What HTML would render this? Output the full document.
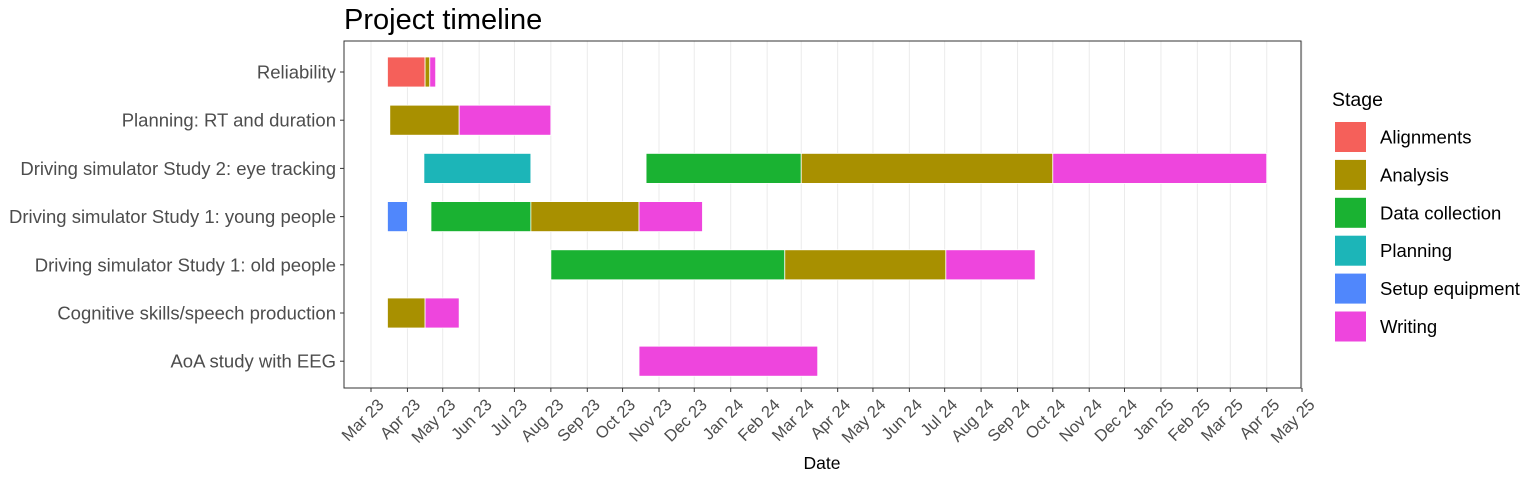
<!DOCTYPE html>
<html><head><meta charset="utf-8"><style>
body{margin:0;background:#fff;}
svg text{font-family:"Liberation Sans",Arial,sans-serif;}
</style></head><body>
<svg id="chart" width="1536" height="480" xmlns="http://www.w3.org/2000/svg">
<text x="344" y="29" font-size="29" fill="#000">Project timeline</text>
<g id="grid"></g>
<g id="bars"></g>
<rect x="344" y="41" width="957" height="347" fill="none" stroke="#333" stroke-width="1"/>
<g id="yaxis"></g>
<g id="xaxis"></g>
<text x="822" y="469" font-size="17.5" text-anchor="middle" fill="#000">Date</text>
<g id="legend"></g>
</svg>
<script>
const tasks = ["Reliability","Planning: RT and duration","Driving simulator Study 2: eye tracking","Driving simulator Study 1: young people","Driving simulator Study 1: old people","Cognitive skills/speech production","AoA study with EEG"];
const stages = ["Alignments","Analysis","Data collection","Planning","Setup equipment","Writing"];
const colors = ["#F5605A","#A89000","#1AB232","#1CB5B8","#5087FC","#EE45DD"];
const segTask = [0,0,0, 1,1, 2,2,2,2, 3,3,3,3, 4,4,4, 5,5, 6];
const segStage = [0,1,5, 1,5, 3,2,1,5, 4,2,1,5, 2,1,5, 1,5, 5];
const segStart = ["2023-03-15","2023-04-16","2023-04-20","2023-03-17","2023-05-15","2023-04-15","2023-10-21","2024-03-01","2024-10-01","2023-03-15","2023-04-21","2023-07-15","2023-10-15","2023-08-01","2024-02-16","2024-07-02","2023-03-15","2023-04-16","2023-10-15"];
const segEnd = ["2023-04-16","2023-04-20","2023-04-25","2023-05-15","2023-08-01","2023-07-15","2024-03-01","2024-10-01","2025-04-01","2023-04-01","2023-07-15","2023-10-15","2023-12-08","2024-02-16","2024-07-02","2024-09-16","2023-04-16","2023-05-15","2024-03-15"];
const tickLabels = ["Mar 23","Apr 23","May 23","Jun 23","Jul 23","Aug 23","Sep 23","Oct 23","Nov 23","Dec 23","Jan 24","Feb 24","Mar 24","Apr 24","May 24","Jun 24","Jul 24","Aug 24","Sep 24","Oct 24","Nov 24","Dec 24","Jan 25","Feb 25","Mar 25","Apr 25","May 25"];

const NS="http://www.w3.org/2000/svg";
const d0=Date.UTC(2023,2,1), d1=Date.UTC(2025,4,1);
function xs(s){const t=typeof s==="number"?s:Date.parse(s+"T00:00:00Z");return 371+(t-d0)/(d1-d0)*(1302-371);}
function ys(i){return 72+i*48.2;}
function mk(tag,attrs,parent){const e=document.createElementNS(NS,tag);for(const k in attrs)e.setAttribute(k,attrs[k]);parent.appendChild(e);return e;}
const grid=document.getElementById('grid'),bars=document.getElementById('bars'),yax=document.getElementById('yaxis'),xax=document.getElementById('xaxis'),leg=document.getElementById('legend');
tickLabels.forEach((lab,i)=>{
  const t=Date.UTC(2023,2+i,1);const x=xs(t);
  const g=mk('line',{x1:x,x2:x,y1:41,y2:388,stroke:'#ebebeb','stroke-width':1},grid);
  
  
  const tk=mk('line',{x1:x,x2:x,y1:388,y2:392,stroke:'#333'},xax);
  
  
  const tx=mk('text',{x:x+5,y:397,'font-size':16.5,fill:'#4d4d4d','text-anchor':'end',transform:`rotate(-45 ${x+5} 397)`,dy:'0.75em'},xax);
  tx.textContent=lab;
  
  
});
tasks.forEach((t,i)=>{
  const y=ys(i);
  const tk=mk('line',{x1:340,x2:344,y1:y,y2:y,stroke:'#333'},yax);
  
  
  const tx=mk('text',{x:336,y:y+6.5,'font-size':18.5,fill:'#4d4d4d','text-anchor':'end'},yax);
  tx.textContent=t;
  
  
});
segTask.forEach((ti,k)=>{
  const x1=xs(segStart[k]),x2=xs(segEnd[k]),y=ys(ti);
  const r=mk('rect',{x:x1,y:y-15,width:x2-x1,height:30,fill:colors[segStage[k]],stroke:'#fff','stroke-width':0.8},bars);
  
  
});
const lt=mk('text',{x:1332,y:106,'font-size':19.5,fill:'#000'},leg);
lt.textContent='Stage';


stages.forEach((s,i)=>{
  const y=122+i*37.9;
  const r=mk('rect',{x:1335,y:y,width:31,height:30,fill:colors[i]},leg);
  
  
  const t=mk('text',{x:1380,y:y+21.5,'font-size':18.5,fill:'#000'},leg);
  t.textContent=s;
  
  
});
</script>
</body></html>
